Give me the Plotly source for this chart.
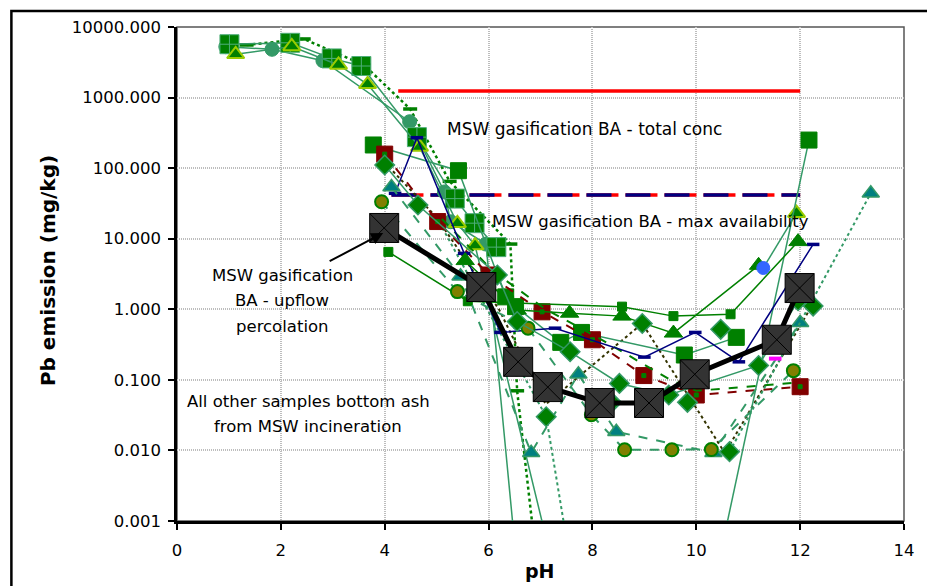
import plotly.graph_objects as go

# ---------------- data (pH , Pb emission mg/kg) ----------------
x_ticks = [0, 2, 4, 6, 8, 10, 12, 14]
y_ticks = [0.001, 0.01, 0.1, 1, 10, 100, 1000, 10000]
y_ticklabels = ["0.001", "0.010", "0.100", "1.000", "10.000", "100.000", "1000.000", "10000.000"]

ph_circ = [0.94, 1.83, 2.81, 4.48, 5.15, 5.27, 5.95, 6.5]
pb_circ = [5260, 4830, 3330, 455, 46, 17.4, 8.4, 0.0005]

ph_tri_y = [1.13, 2.21, 3.11, 3.67, 4.67, 5.40, 5.74, 7.2]
pb_tri_y = [4100, 5300, 2900, 1540, 200, 16.5, 8.0, 0.0003]

ph_tri_y2 = [11.29, 11.93]
pb_tri_y2 = [3.85, 23]

ph_sqp = [1.01, 2.18, 2.98, 3.55, 4.62, 5.35, 5.73, 6.15]
pb_sqp = [5700, 5970, 3590, 2800, 275, 37, 16.6, 7.6]

ph_dotg = [1.34, 2.44, 3.6, 4.49, 5.25, 6.42, 6.55, 6.85]
pb_dotg = [5560, 6770, 2900, 689, 65, 8.4, 0.07, 0.0008]

ph_sqs = [4.07, 5.6, 8.57, 9.56, 10.66, 11.96]
pb_sqs = [6.5, 1.3, 1.09, 0.80, 0.85, 9.1]

ph_trig = [5.55, 6.55, 7.56, 8.57, 9.56, 11.2]
pb_trig = [4.9, 0.98, 0.88, 0.80, 0.46, 4.2]

ph_trit = [4.13, 5.46, 6.82, 7.73, 8.46, 10.33, 12.0]
pb_trit = [54, 2.95, 0.0093, 0.12, 0.0184, 0.0093, 0.645]

ph_trit2 = [10.64, 13.36]
pb_trit2 = [0.0096, 44]

ph_olive = [3.94, 5.40, 6.76, 7.98, 8.62, 9.53, 10.29, 11.87]
pb_olive = [33.4, 1.78, 0.54, 0.032, 0.0102, 0.0102, 0.0103, 0.135]

ph_dia1 = [4.0, 4.64, 6.17, 6.55, 7.57, 8.52, 9.47, 11.2, 11.96]
pb_dia1 = [111, 30, 3.06, 0.67, 0.25, 0.089, 0.061, 0.16, 1.32]

ph_dia2 = [7.11, 8.37, 8.96, 9.83, 10.47, 10.64, 12.25]
pb_dia2 = [0.030, 0.048, 0.63, 0.048, 0.52, 0.0096, 1.11]

ph_dark = [4.0, 5.0, 6.2, 7.1, 8.96, 10.55, 12.25]
pb_dark = [120, 20, 1.0, 0.045, 0.63, 0.0092, 1.2]

ph_drop = [5.0, 7.11, 7.6]
pb_drop = [20, 0.030, 0.0002]

ph_red = [4.0, 5.02, 6.01, 7.03, 8.0, 8.99, 10.0, 12.0]
pb_red = [158, 17.5, 3.06, 0.92, 0.37, 0.115, 0.061, 0.080]

ph_gdash = [5.1, 6.1, 7.1, 8.1, 9.5, 10.0, 12.0]
pb_gdash = [19, 3.4, 1.0, 0.40, 0.10, 0.07, 0.092]

ph_navy = [4.2, 4.62, 5.53, 6.23, 7.28, 9.0, 9.98, 10.82, 12.25]
pb_navy = [44, 270, 6.2, 0.47, 0.54, 0.21, 0.47, 0.18, 8.3]

ph_big = [3.78, 5.42, 6.33, 6.52, 7.39, 7.79, 9.77, 10.77]
pb_big = [213, 92, 1.5, 1.09, 0.34, 0.47, 0.225, 0.40]

ph_big2 = [10.45, 12.17]
pb_big2 = [0.0003, 250]

ph_blue = [11.29]
pb_blue = [3.85]
ph_mag = [11.52]
pb_mag = [0.2]

ph_upflow = [3.99, 5.86, 6.57, 7.14, 8.14, 9.09, 9.97, 11.55, 11.99]
pb_upflow = [14.2, 2.07, 0.18, 0.079, 0.047, 0.047, 0.12, 0.37, 2.0]

ph_total = [4.26, 12.0]
pb_total = [1240, 1240]
ph_avail = [4.13, 12.0]
pb_avail = [41.7, 41.7]

# ---------------- figure ----------------
SG = "#339966"
GR = "#008000"
fig = go.Figure()


def add(x, y, color, width=1.5, dash="solid", symbol="circle", size=12,
        mcolor=None, mline=None, mlw=1, mode="lines+markers"):
    fig.add_trace(go.Scatter(
        x=x, y=y, mode=mode,
        line=dict(color=color, width=width, dash=dash),
        marker=dict(symbol=symbol, size=size, color=mcolor, opacity=1,
                    line=dict(color=mline, width=mlw)),
        showlegend=False, hoverinfo="skip"))


# reference lines
add(ph_total, pb_total, "#ff0000", width=3.5, mode="lines")
add(ph_avail, pb_avail, "#ff0000", width=3.5, dash="32px,7px", mode="lines")
add(ph_avail, pb_avail, "#000080", width=3.5, dash="25px,14px", mode="lines")

# data series
add(ph_dark, pb_dark, "#333300", width=2, dash="dot", mode="lines")
add(ph_drop, pb_drop, SG, width=2, dash="dot", mode="lines")
add(ph_dotg, pb_dotg, GR, width=2.5, dash="dot", symbol="line-ew", size=10,
    mcolor=GR, mline=GR, mlw=3.5)
add(ph_circ, pb_circ, SG, symbol="circle", size=14, mcolor=SG, mline=SG)
add(ph_sqp, pb_sqp, SG, symbol="square-cross", size=19, mcolor=GR, mline="#4fae7a", mlw=1)
add(ph_tri_y, pb_tri_y, SG, symbol="triangle-up", size=15, mcolor=GR, mline="#99cc00", mlw=2)
add(ph_tri_y2, pb_tri_y2, SG, symbol="triangle-up", size=[0, 15], mcolor=GR, mline="#99cc00", mlw=2)
add(ph_big, pb_big, SG, symbol="square", size=16, mcolor=GR, mline=GR)
add(ph_big2, pb_big2, SG, symbol="square", size=[0, 16], mcolor=GR, mline=GR)
add(ph_red, pb_red, "#800000", width=2, dash="dash", symbol="square", size=16,
    mcolor="#800000", mline="#800000")
add(ph_gdash, pb_gdash, GR, width=2, dash="dash", mode="lines")
add(ph_red, pb_red, GR, mode="markers", symbol="square", size=4, mcolor=GR, mline=GR)
add(ph_navy, pb_navy, "#000080", width=1.5, symbol="line-ew", size=9,
    mcolor="#000080", mline="#000080", mlw=3.5)
add(ph_sqs, pb_sqs, GR, symbol=["square"] * 5 + ["triangle-up"], size=[9] * 5 + [16],
    mcolor=GR, mline=GR)
add(ph_trig, pb_trig, GR, symbol="triangle-up", size=16, mcolor=GR, mline=GR)
add(ph_trit, pb_trit, SG, width=2, dash="dash", symbol="triangle-up", size=15,
    mcolor="#008080", mline=SG, mlw=1.5)
add(ph_trit2, pb_trit2, SG, width=2, dash="dot", symbol="triangle-up", size=[0, 15],
    mcolor="#008080", mline=SG, mlw=1.5)
add(ph_olive, pb_olive, SG, width=2, dash="dash", symbol="circle", size=13,
    mcolor="#808000", mline=GR, mlw=2)
add(ph_dia1, pb_dia1, SG, symbol="diamond", size=15, mcolor=GR, mline=SG, mlw=1.5)
add(ph_dia2, pb_dia2, SG, mode="markers", symbol="diamond", size=15, mcolor=GR, mline=SG, mlw=1.5)
add(ph_blue, pb_blue, "#3366ff", mode="markers", symbol="circle", size=13, mcolor="#3366ff", mline="#3366ff")
add(ph_mag, pb_mag, "#ff00ff", mode="markers", symbol="line-ew", size=9, mcolor="#ff00ff", mline="#ff00ff", mlw=4)

# upflow percolation (black thick line, big crossed squares)
add(ph_upflow, pb_upflow, "#000000", width=5, symbol="square-x", size=29,
    mcolor="#333333", mline="#000000", mlw=1)

FONT = "DejaVu Sans"
fig.update_layout(
    width=927, height=586,
    margin=dict(l=177, r=17, t=27, b=65),
    paper_bgcolor="white", plot_bgcolor="white",
    font=dict(family=FONT, size=16.5, color="black"),
)
fig.update_xaxes(
    range=[0, 14], tickvals=x_ticks, ticks="outside", ticklen=6, tickwidth=1.5,
    tickcolor="black", showline=True, linecolor="black", linewidth=2.5,
    showgrid=True, gridcolor="#bdbdbd", griddash="1px,1px", gridwidth=1.5,
    zeroline=False, ticklabelstandoff=6,
)
fig.update_yaxes(
    type="log", range=[-3, 4], tickvals=y_ticks, ticktext=y_ticklabels,
    ticks="outside", ticklen=6, tickwidth=1.5, tickcolor="black",
    showline=True, linecolor="black", linewidth=2.5,
    showgrid=True, gridcolor="#bdbdbd", griddash="1px,1px", gridwidth=1.5,
    zeroline=False, ticklabelstandoff=4,
)

# frames
fig.add_shape(type="rect", xref="paper", yref="paper", x0=0, x1=1, y0=0, y1=1,
              line=dict(color="#555555", width=1.5), layer="below")
fig.add_shape(type="rect", xref="paper", yref="paper", x0=-0.2278, x1=1.2, y0=-0.3, y1=1.0324,
              line=dict(color="black", width=2.5), layer="below")

ann = [
    dict(text="MSW gasification BA - total conc", x=5.157, y=2.555, xanchor="left", size=17),
    dict(text="MSW gasification BA - max availability", x=6.035, y=1.251, xanchor="left", size=16.5),
    dict(text="MSW gasification", x=2.025, y=0.482, xanchor="center", size=16.5),
    dict(text="BA - upflow", x=2.025, y=0.120, xanchor="center", size=16.5),
    dict(text="percolation", x=2.025, y=-0.250, xanchor="center", size=16.5),
    dict(text="All other samples bottom ash", x=2.53, y=-1.30, xanchor="center", size=16.5),
    dict(text="from MSW incineration", x=2.53, y=-1.66, xanchor="center", size=16.5),
]
for a in ann:
    fig.add_annotation(text=a["text"], x=a["x"], y=a["y"], xref="x", yref="y",
                       xanchor=a["xanchor"], yanchor="middle", showarrow=False,
                       font=dict(family=FONT, size=a["size"], color="black"))

fig.add_annotation(x=3.97, y=1.081, xref="x", yref="y", ax=-55, ay=29, text="",
                   showarrow=True, arrowhead=2, arrowsize=1.2, arrowwidth=2, arrowcolor="black")

fig.add_annotation(text="<b>Pb emission (mg/kg)</b>", xref="paper", yref="paper",
                   x=(47 - 177) / 733, y=(521 - 271) / 494, textangle=-90,
                   showarrow=False, xanchor="center", yanchor="middle",
                   font=dict(family=FONT, size=20, color="black"))
fig.add_annotation(text="<b>pH</b>", xref="paper", yref="paper",
                   x=(543 - 177) / 733, y=(521 - 571) / 494,
                   showarrow=False, xanchor="center", yanchor="middle",
                   font=dict(family=FONT, size=19, color="black"))

fig.write_html("out.html")
